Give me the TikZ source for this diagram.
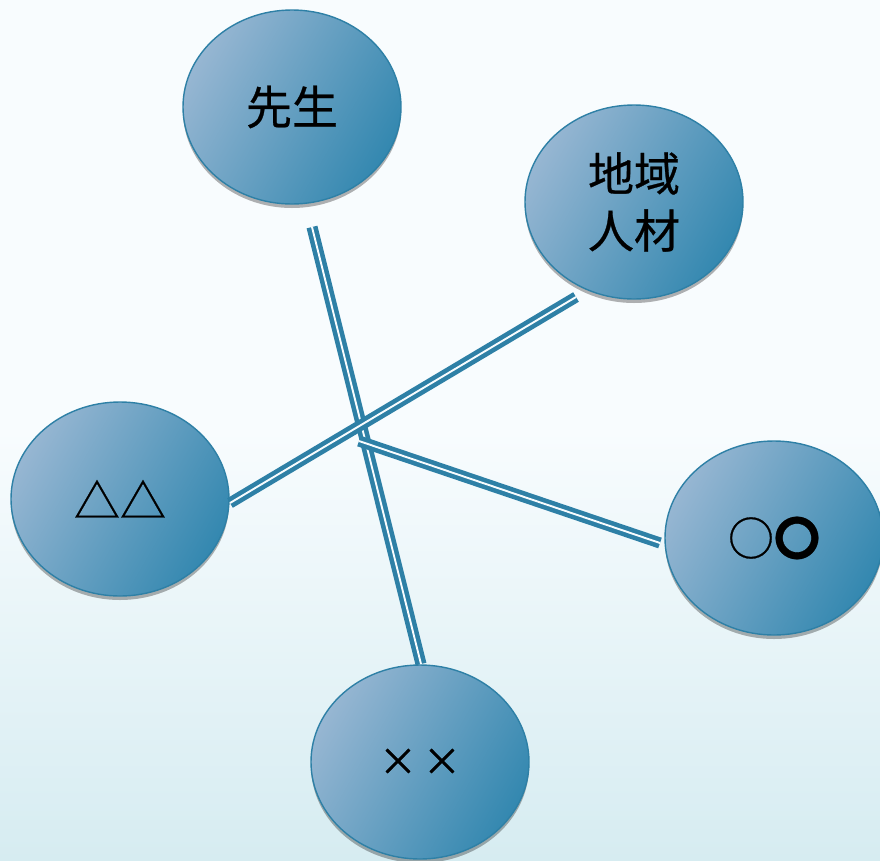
\documentclass[tikz,border=0pt]{standalone}
\usepackage{fontspec}
\newfontfamily\cjk[FakeBold=0.6]{Noto Sans CJK JP}
\usetikzlibrary{shadows,shapes.geometric}
\definecolor{edge}{RGB}{46,128,166}
\definecolor{light}{RGB}{150,182,210}
\definecolor{dark}{RGB}{52,136,176}
\definecolor{bgtop}{RGB}{248,252,254}
\definecolor{bgbot}{RGB}{214,236,241}
\tikzset{
  x=1pt, y=-1pt,
  bubble/.style={ellipse, draw=edge, line width=1.4pt, minimum width=218pt, minimum height=194pt,
     left color=light, right color=dark, shading angle=60, inner sep=0pt,
     drop shadow={shadow xshift=0pt, shadow yshift=-4pt, opacity=0.3, fill=black},
     font=\cjk\fontsize{46}{57}\selectfont, text=black, align=center},
  link/.style={draw=edge, line width=4.6pt, double=bgtop, double distance=1.9pt}
}
\begin{document}
\begin{tikzpicture}
\shade[top color=bgtop, bottom color=bgbot, middle color=bgtop] (0,0) rectangle (880,860);
\useasboundingbox (0,0) rectangle (880,860);
\node[bubble] (sensei) at (292,107) {先生};
\node[bubble] (chiiki) at (634,202) {地域\\人材};
\node[bubble] (sankaku) at (120,499) {△△};
\node[bubble] (maru) at (774,538) {○{\bfseries 〇}};
\node[bubble, font=\cjk\fontsize{38}{46}\selectfont] (batsu) at (420,762) {×\hspace{6pt}×};
\coordinate (s1) at (312,227);
\coordinate (b1) at (421,664);
\coordinate (c1) at (576,297);
\coordinate (t1) at (230,503);
\coordinate (m1) at (359,441);
\coordinate (m2) at (660,543);
\draw[link] (s1) -- (b1);
\draw[link] (c1) -- (t1);
\draw[link] (m1) -- (m2);
\end{tikzpicture}
\end{document}
